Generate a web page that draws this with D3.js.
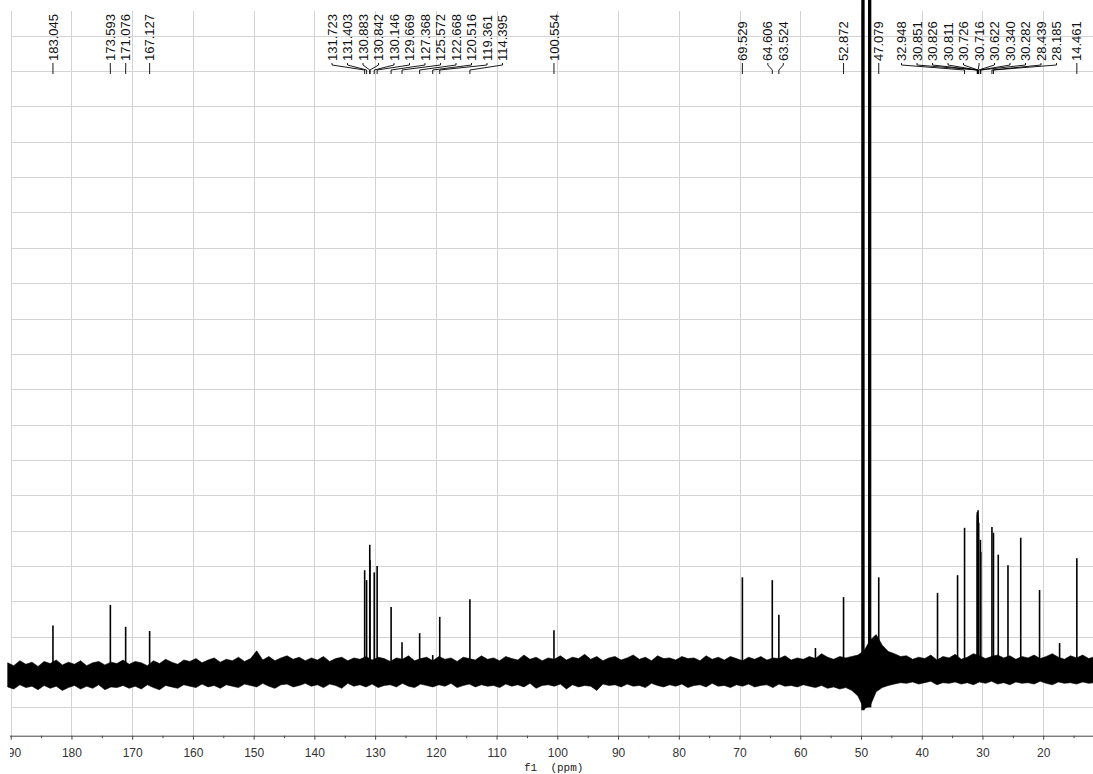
<!DOCTYPE html>
<html><head><meta charset="utf-8">
<script src="https://cdn.jsdelivr.net/npm/d3@7"></script>
<style>body{margin:0;background:#fff;} svg{display:block;}</style>
</head><body><svg id="c" width="1093" height="774"></svg>
<script>
// ---------- DATA ----------
const labelPpm = [183.045, 173.593, 171.076, 167.127,
  131.723, 131.403, 130.883, 130.842, 130.146, 129.669, 127.368, 125.572, 122.668, 120.516, 119.361, 114.395,
  100.554, 69.529, 64.606, 63.524, 52.872, 47.079,
  32.948, 30.851, 30.826, 30.811, 30.726, 30.716, 30.622, 30.340, 30.282, 28.439, 28.185, 14.461];

const peakPpm = [183.045, 173.593, 171.076, 167.127,
  131.723, 131.403, 130.883, 130.842, 130.146, 129.669, 127.368, 125.572, 122.668, 120.516, 119.361, 114.395,
  100.554, 69.529, 64.606, 63.524, 57.5, 52.872, 47.079, 37.4, 34.1,
  32.948, 30.851, 30.826, 30.811, 30.726, 30.716, 30.622, 30.340, 30.282, 28.439, 28.185,
  27.4, 25.8, 23.7, 20.6, 17.3, 14.461];
const peakHeight = [6.6, 9.5, 6.4, 5.8,
  14.4, 13.0, 18.0, 15.8, 14.1, 15.0, 9.2, 4.2, 5.5, 2.4, 7.8, 10.3,
  5.9, 13.4, 13.0, 8.1, 3.4, 10.6, 13.4, 11.2, 13.7,
  20.4, 22.6, 22.2, 21.5, 22.9, 21.8, 21.1, 18.7, 17.0, 20.5, 19.7,
  16.6, 15.1, 19.0, 11.6, 4.1, 16.1];

// baseline noise envelope, sampled every 1 ppm from 190.5 ppm down to 11.5 ppm
const noiseStartPpm = 190.5;
const noiseStepPpm = 1;
const noiseTop = [
  1.3, 0.9, 1.6, 1.1, 1.4, 0.8, 1.5, 1.2, 1.7, 1.0,
  1.4, 1.1, 1.6, 0.9, 1.3, 1.5, 1.0, 1.4, 1.2, 1.7,
  1.1, 1.5, 1.3, 0.9, 1.6, 1.2, 1.8, 1.4, 1.1, 1.7,
  1.5, 1.9, 1.3, 1.7, 2.0, 1.4, 1.8, 1.6, 2.1, 1.5,
  1.9, 3.0, 1.7, 2.2, 1.6, 2.0, 2.3, 1.8, 2.1, 1.6,
  2.0, 1.7, 2.2, 1.5, 1.9, 2.1, 1.6, 2.0, 1.8, 2.2,
  1.7, 2.1, 1.9, 1.5, 2.0, 1.8, 2.3, 1.6, 1.9, 2.1,
  1.6, 2.2, 1.8, 2.0, 1.5, 2.1, 1.9, 1.7, 2.3, 1.8,
  2.0, 1.6, 2.2, 1.9, 1.7, 2.4, 1.8, 2.1, 1.6, 2.0,
  1.8, 2.3, 1.7, 2.1, 1.9, 2.5, 1.8, 2.2, 1.6, 2.0,
  2.2, 1.7, 2.0, 2.4, 1.8, 2.1, 1.6, 2.3, 1.9, 2.0,
  1.7, 2.2, 1.9, 2.0, 1.6, 2.3, 1.8, 2.1, 1.7, 2.2,
  1.9, 1.6, 2.1, 1.8, 2.2, 1.7, 2.0, 1.9, 2.3, 1.7,
  2.0, 1.8, 2.2, 1.9, 2.6, 2.1, 1.8, 2.2, 2.0, 2.2,
  2.4, 3.0, 4.5, 5.3, 3.8, 2.9, 2.6, 2.2,
  2.3, 1.8, 2.1, 1.9, 2.4, 1.7, 2.2, 2.0, 2.5, 1.8,
  2.1, 2.6, 2.3, 1.9, 2.2, 2.4, 2.0, 2.3, 1.8, 2.2,
  2.0, 2.4, 1.9, 2.2, 2.6, 2.1, 1.8, 2.3, 2.0, 2.4, 1.9, 2.2];
const noiseBottom = [
  -2.1, -2.4, -1.8, -2.2, -2.0, -2.5, -1.9, -2.3, -2.0, -2.6,
  -2.2, -1.9, -2.4, -2.0, -2.3, -1.8, -2.5, -2.1, -2.2, -1.9,
  -2.3, -2.0, -2.4, -1.8, -2.2, -2.5, -1.9, -2.1, -2.3, -1.8,
  -2.0, -2.2, -1.7, -2.1, -1.9, -2.3, -1.8, -2.0, -2.2, -1.7,
  -1.9, -2.1, -1.6, -2.0, -2.3, -1.8, -1.7, -2.1, -1.9, -1.6,
  -2.0, -1.8, -2.2, -1.7, -1.9, -2.3, -1.6, -2.0, -1.8, -2.1,
  -1.7, -2.2, -1.9, -1.8, -2.1, -1.6, -2.0, -2.2, -1.7, -1.9,
  -2.1, -1.8, -2.0, -1.6, -2.2, -1.9, -1.7, -2.1, -1.8, -2.0,
  -1.9, -2.2, -1.7, -2.0, -1.8, -2.1, -1.6, -2.3, -1.9, -1.8,
  -2.0, -1.7, -2.4, -1.8, -2.1, -1.9, -2.0, -2.6, -1.7, -1.9,
  -1.8, -2.1, -1.7, -2.0, -1.9, -2.2, -1.6, -1.9, -2.1, -1.8,
  -2.0, -1.7, -2.2, -1.9, -1.8, -2.1, -1.6, -2.0, -1.9, -2.2,
  -1.8, -2.0, -1.7, -2.1, -1.9, -1.8, -2.2, -1.7, -2.0, -1.9,
  -2.1, -1.8, -2.0, -2.2, -1.9, -2.3, -2.1, -2.4, -2.2, -2.6,
  -3.4, -5.2, -4.8, -2.8, -2.2, -1.9, -1.7, -1.5,
  -1.6, -1.4, -1.7, -1.5, -1.3, -1.8, -1.5, -1.6, -1.4, -1.7,
  -1.5, -1.8, -1.4, -1.6, -1.3, -1.7, -1.5, -1.8, -1.4, -1.6,
  -1.5, -1.7, -1.3, -1.6, -1.8, -1.4, -1.6, -1.5, -1.7, -1.4, -1.6, -1.5];

// solvent (CD3OD) lines, off scale
const solventHi = [49.95, 48.85];
const solventLo = [49.40, 48.30];
const solventMin = [-5.4, -5.0];
const solventMax = [120, 120];

const xMajorTicks = [190, 180, 170, 160, 150, 140, 130, 120, 110, 100, 90, 80, 70, 60, 50, 40, 30, 20];
const xMinorTicks = [185, 175, 165, 155, 145, 135, 125, 115, 105, 95, 85, 75, 65, 55, 45, 35, 25, 15];
const yGridValues = [-5, 0, 5, 10, 15, 20, 25, 30, 35, 40, 45, 50, 55, 60, 65, 70, 75, 80, 85, 90];
const axisTitle = "f1\u00a0\u00a0(ppm)";

// ---------- CHART ----------
const svg = d3.select("#c");
const W = 1093, H = 774;
const x = d3.scaleLinear().domain([190.43, 11.8]).range([8.1, 1093]);
const y = d3.scaleLinear().domain([-5, 90]).range([707.4, 35.7]);
const axisY = 735.7, plotTop = 11, plotLeft = 11;

// grid
const grid = svg.append("g").attr("stroke", "#d3d3d3").attr("stroke-width", 1).attr("shape-rendering", "crispEdges");
grid.selectAll("line.v").data(xMajorTicks).join("line").attr("class", "v")
  .attr("x1", d => Math.round(x(d)) + 0.5).attr("x2", d => Math.round(x(d)) + 0.5)
  .attr("y1", plotTop).attr("y2", axisY);
grid.selectAll("line.h").data(yGridValues).join("line").attr("class", "h")
  .attr("x1", plotLeft).attr("x2", W)
  .attr("y1", d => Math.round(y(d)) + 0.5).attr("y2", d => Math.round(y(d)) + 0.5);

// spectrum: noise band
const noise = noiseTop.map((t, i) => ({ppm: noiseStartPpm - i * noiseStepPpm, t, b: noiseBottom[i]}));
const spec = svg.append("g");
spec.append("path").datum(noise)
  .attr("d", d3.area().x(d => x(d.ppm)).y0(d => y(d.b)).y1(d => y(d.t)))
  .attr("fill", "#000").attr("stroke", "#000").attr("stroke-width", 0.6);

// peaks
spec.selectAll("line.pk").data(peakPpm.map((p, i) => ({p, h: peakHeight[i]}))).join("line").attr("class", "pk")
  .attr("x1", d => x(d.p)).attr("x2", d => x(d.p))
  .attr("y1", y(-1.2)).attr("y2", d => y(d.h))
  .attr("stroke", "#000").attr("stroke-width", 1.6);

// solvent
spec.selectAll("rect.sv").data(solventHi.map((h, i) => ({hi: h, lo: solventLo[i], mn: solventMin[i], mx: solventMax[i]}))).join("rect")
  .attr("class", "sv")
  .attr("x", d => x(d.hi)).attr("width", d => x(d.lo) - x(d.hi))
  .attr("y", d => Math.max(0, y(d.mx))).attr("height", d => y(d.mn) - Math.max(0, y(d.mx)))
  .attr("fill", "#000");

// axis (labels clipped at the plot's left edge)
const clip = svg.append("clipPath").attr("id", "axclip");
clip.append("rect").attr("x", 10).attr("y", -40).attr("width", W - 10).attr("height", 80);
const axG = svg.append("g").attr("transform", `translate(0,${axisY})`).attr("clip-path", "url(#axclip)");
axG.call(d3.axisBottom(x).tickValues(xMajorTicks).tickSize(4).tickSizeOuter(0).tickPadding(9).tickFormat(d3.format("d")));
axG.select(".domain").attr("stroke", "#444");
axG.selectAll(".tick line").attr("stroke", "#444");
axG.selectAll(".tick text").attr("font-family", "Liberation Sans, Arial, sans-serif").attr("font-size", 12).attr("fill", "#333");
const axMinor = svg.append("g").attr("transform", `translate(0,${axisY})`);
axMinor.call(d3.axisBottom(x).tickValues(xMinorTicks).tickSize(2.5).tickSizeOuter(0).tickFormat(""));
axMinor.select(".domain").remove();
axMinor.selectAll(".tick line").attr("stroke", "#444");

svg.append("text").attr("x", 553.7).attr("y", 771).attr("text-anchor", "middle")
  .attr("font-family", "Liberation Mono, Courier New, monospace").attr("font-size", 11).attr("fill", "#222")
  .text(axisTitle);

// peak labels layout
const s = 15.5;
const items = labelPpm.map(p => ({p, px: x(p)})).sort((a, b) => a.px - b.px);
let clusters = items.map(d => [d]);
function place(c) {
  const mid = (c[0].px + c[c.length - 1].px) / 2;
  c.forEach((d, i) => d.lx = mid + (i - (c.length - 1) / 2) * s);
}
clusters.forEach(place);
let merged = true;
while (merged) {
  merged = false;
  for (let i = 0; i < clusters.length - 1; i++) {
    const a = clusters[i], b = clusters[i + 1];
    if (b[0].lx - a[a.length - 1].lx < s) {
      const c = a.concat(b); place(c); clusters.splice(i, 2, c); merged = true; break;
    }
  }
}
const yText = 61, yL1 = 63, yL2 = 65, yL3 = 70, yL4 = 74;
const lab = svg.append("g");
lab.selectAll("path.ld").data(items).join("path").attr("class", "ld")
  .attr("d", d => d3.line()([[d.lx, yL1], [d.lx, yL2], [d.px, yL3], [d.px, yL4]]))
  .attr("fill", "none").attr("stroke", "#000").attr("stroke-width", 0.9);
lab.selectAll("text.pl").data(items).join("text").attr("class", "pl")
  .attr("transform", d => `translate(${d.lx},${yText}) rotate(-90)`)
  .attr("dy", "0.35em").attr("text-anchor", "start")
  .attr("font-family", "Liberation Sans, Arial, sans-serif").attr("font-size", 13).attr("fill", "#111")
  .text(d => d3.format(".3f")(d.p));
</script></body></html>
